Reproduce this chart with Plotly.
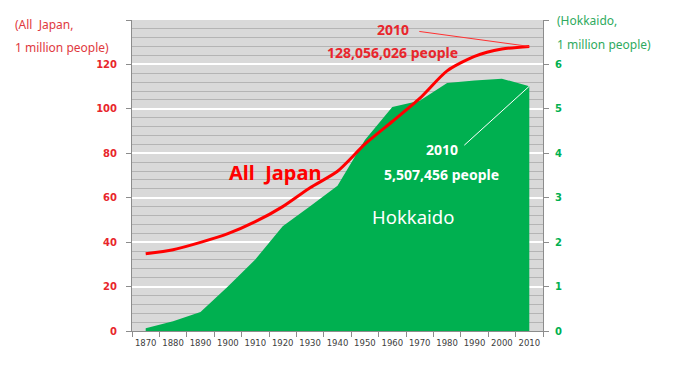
import plotly.graph_objects as go

years = ["1870", "1880", "1890", "1900", "1910", "1920", "1930", "1940",
         "1950", "1960", "1970", "1980", "1990", "2000", "2010"]
japan = [34.8, 36.6, 39.9, 43.8, 49.2, 56.0, 64.5, 71.9, 84.1, 94.3,
         104.7, 117.1, 123.6, 126.9, 128.1]
hokkaido = [0.06, 0.22, 0.43, 1.00, 1.61, 2.36, 2.81, 3.27, 4.30, 5.04,
            5.18, 5.58, 5.64, 5.68, 5.51]
left_ticks = [0, 20, 40, 60, 80, 100, 120, 140]
left_labels = ["0", "20", "40", "60", "80", "100", "120", ""]
right_ticks = [0, 1, 2, 3, 4, 5, 6, 7]
right_labels = ["0", "1", "2", "3", "4", "5", "6", ""]

RED = "#ff0000"
GREEN = "#00b050"
AXIS = "#8c8c8c"

fig = go.Figure()
fig.add_trace(go.Scatter(x=years, y=hokkaido, mode="none", fill="tozeroy",
                         fillcolor=GREEN, yaxis="y", hoverinfo="skip"))
fig.add_trace(go.Scatter(x=years, y=japan, mode="lines", yaxis="y2",
                         line=dict(color=RED, width=3, shape="spline", smoothing=0.7)))

# page body has an 8px default margin; compensate so plot lands at 132..543 x 20..331
fig.update_layout(
    width=672, height=376,
    margin=dict(l=124, r=137, t=12, b=53),
    paper_bgcolor="white", plot_bgcolor="#d9d9d9",
    showlegend=False,
    font=dict(family="DejaVu Sans", size=10),
    xaxis=dict(type="category", range=[-0.5, 14.5], tickson="boundaries",
               ticks="outside", ticklen=5, tickcolor=AXIS, showline=True,
               linecolor=AXIS, linewidth=1, showgrid=False, tickangle=0,
               ticklabelstandoff=4,
               tickfont=dict(size=8.5, color="#404040", family="DejaVu Sans")),
    yaxis=dict(side="right", range=[0, 7], tickvals=right_ticks, ticktext=right_labels,
               ticks="outside", ticklen=5, tickcolor=AXIS, showline=True,
               linecolor=AXIS, linewidth=1, showgrid=True, gridcolor="white",
               gridwidth=1.5, zeroline=False,
               minor=dict(dtick=0.2, showgrid=True, gridcolor="#b4b4b4", gridwidth=1),
               tickfont=dict(size=10, color=GREEN, family="DejaVu Sans", weight="bold"),
               ticklabelstandoff=4),
    yaxis2=dict(side="left", overlaying="y", range=[0, 140], tickvals=left_ticks,
                ticktext=left_labels, ticks="outside", ticklen=5, tickcolor=AXIS,
                showline=True, linecolor=AXIS, linewidth=1, showgrid=False,
                zeroline=False,
                tickfont=dict(size=10, color="#e8262c", family="DejaVu Sans", weight="bold"),
                ticklabelstandoff=7),
)

def ann(text, x, y, color, size, bold=False, xanchor="center", family="Noto Sans"):
    fig.add_annotation(text=("<b>%s</b>" % text) if bold else text, x=x, y=y,
                       xref="paper", yref="paper", showarrow=False,
                       xanchor=xanchor, yanchor="middle",
                       font=dict(color=color, size=size, family=family))

ann("(All&nbsp;&nbsp;Japan,", -0.2895, 0.984, "#e0393e", 12, xanchor="left")
ann("1 million people)", -0.2895, 0.913, "#e0393e", 12, xanchor="left")
ann("(Hokkaido,", 1.029, 0.997, "#2eaa5e", 12, xanchor="left")
ann("1 million people)", 1.029, 0.920, "#2eaa5e", 12, xanchor="left")

ann("2010", 0.635, 0.971, "#e8262c", 14, bold=True)
ann("128,056,026 people", 0.635, 0.894, "#e8262c", 14, bold=True)
ann("All&nbsp;&nbsp;Japan", 0.348, 0.511, RED, 20, bold=True)
ann("2010", 0.754, 0.582, "white", 14, bold=True)
ann("5,507,456 people", 0.754, 0.502, "white", 14, bold=True)
ann("Hokkaido", 0.684, 0.367, "white", 18.5)

# leader lines from the labels to the 2010 data points (anchored at the data, sized in px)
fig.add_shape(type="line", xref="x", yref="y2", xsizemode="pixel", ysizemode="pixel",
              xanchor=len(years) - 1, yanchor=japan[-1],
              x0=-110, y0=15, x1=0, y1=0, layer="above",
              line=dict(color="#ff3030", width=1))
fig.add_shape(type="line", xref="x", yref="y", xsizemode="pixel", ysizemode="pixel",
              xanchor=len(years) - 1, yanchor=hokkaido[-1],
              x0=-65, y0=-59, x1=0, y1=0, layer="above",
              line=dict(color="white", width=1))

fig.write_html("out.html")
